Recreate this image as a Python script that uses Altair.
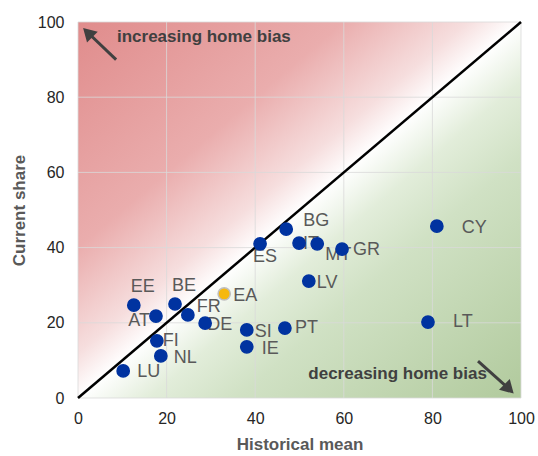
import altair as alt
import pandas as pd

# ---- data ----
countries = ["LU", "NL", "FI", "AT", "EE", "BE", "FR", "DE", "EA", "SI",
             "IE", "PT", "LV", "ES", "BG", "IT", "MT", "GR", "CY", "LT"]
historical = [10.2, 18.7, 17.8, 17.6, 12.6, 21.9, 24.8, 28.7, 33.0, 38.1,
              38.1, 46.7, 52.1, 41.1, 47.0, 49.9, 54.0, 59.6, 81.0, 79.0]
current = [7.2, 11.2, 15.2, 21.8, 24.7, 25.0, 22.1, 19.9, 27.7, 18.1,
           13.6, 18.6, 31.1, 41.0, 44.9, 41.2, 41.0, 39.6, 45.7, 20.2]

axis_ticks = [0, 20, 40, 60, 80, 100]
diag_x = [0, 100]
diag_y = [0, 100]

# annotation arrows (data units): tail -> head
arrow_up_x = [8.6, 2.2]
arrow_up_y = [90.0, 97.2]
arrow_down_x = [90.3, 97.3]
arrow_down_y = [9.8, 2.4]

# ---- label placement (style) ----
label_style = {
    "LU": ("left", 14, 1), "NL": ("left", 13, 2), "FI": ("left", 6, 0),
    "AT": ("right", -6, 5), "EE": ("center", 9, -18), "BE": ("center", 9, -18),
    "FR": ("left", 9, -8), "DE": ("left", 2, 2), "EA": ("left", 9, 2),
    "SI": ("left", 8, 2), "IE": ("left", 15, 2), "PT": ("left", 10, 0),
    "LV": ("left", 8, 2), "ES": ("center", 5, 13), "BG": ("left", 17, -8),
    "IT": ("left", 4, 1), "MT": ("left", 8, 11), "GR": ("left", 11, 1),
    "CY": ("left", 25, 2), "LT": ("left", 25, 0),
}

df = pd.DataFrame({"country": countries, "hist": historical, "cur": current})
df["group"] = ["EA" if c == "EA" else "country" for c in countries]

FONT = "Liberation Sans"
xs = alt.Scale(domain=[0, 100], nice=False)
ys = alt.Scale(domain=[0, 100], nice=False)

W, H = 443, 376

bg_df = pd.DataFrame({"x": [0], "x2": [100], "y": [0], "y2": [100]})
gradient = {
    "gradient": "linear", "x1": 0, "y1": 0, "x2": 1, "y2": 1,
    "stops": [
        {"offset": 0.0, "color": "#e08c8c"},
        {"offset": 0.3, "color": "#eaadad"},
        {"offset": 0.44, "color": "#f6dede"},
        {"offset": 0.5, "color": "#ffffff"},
        {"offset": 0.58, "color": "#e2edda"},
        {"offset": 0.68, "color": "#d0e1c4"},
        {"offset": 1.0, "color": "#b1ca9d"},
    ],
}
background = alt.Chart(bg_df).mark_rect(fill=gradient).encode(
    x=alt.X("x:Q", scale=xs, title="Historical mean",
            axis=alt.Axis(values=axis_ticks, grid=False, labelFlush=False,
                          ticks=False, domain=False, labelFontSize=16,
                          labelColor="#262626", labelFont=FONT, labelPadding=12,
                          titleFont=FONT, titleFontSize=17, titleColor="#595959",
                          titleFontWeight="bold", titlePadding=10)),
    x2="x2:Q",
    y=alt.Y("y:Q", scale=ys, title="Current share",
            axis=alt.Axis(values=axis_ticks, grid=False, labelFlush=False,
                          ticks=False, domain=False, labelFontSize=16,
                          labelColor="#262626", labelFont=FONT, labelPadding=14,
                          titleFont=FONT, titleFontSize=17, titleColor="#595959",
                          titleFontWeight="bold", titlePadding=9)),
    y2="y2:Q",
)

# gridlines drawn over gradient
grid_df = pd.DataFrame({"v": axis_ticks})
vgrid = alt.Chart(grid_df).mark_rule(color="#d9d9d9", strokeWidth=1, opacity=0.8).encode(
    x=alt.X("v:Q", scale=xs))
hgrid = alt.Chart(grid_df).mark_rule(color="#d9d9d9", strokeWidth=1, opacity=0.8).encode(
    y=alt.Y("v:Q", scale=ys))

diag = alt.Chart(pd.DataFrame({"x": diag_x, "y": diag_y})).mark_line(
    color="black", strokeWidth=2.5).encode(
    x=alt.X("x:Q", scale=xs), y=alt.Y("y:Q", scale=ys))

points = alt.Chart(df).mark_circle(size=150, opacity=1).encode(
    x=alt.X("hist:Q", scale=xs),
    y=alt.Y("cur:Q", scale=ys),
    color=alt.Color("group:N", scale=alt.Scale(domain=["country", "EA"],
                                               range=["#0033a0", "#f5b80f"]),
                    legend=None),
    stroke=alt.Stroke("group:N", scale=alt.Scale(domain=["country", "EA"],
                                                 range=["#0033a0", "#bfbfbf"]),
                      legend=None),
    strokeWidth=alt.value(1.5),
)

label_layers = []
for c, (al, dx, dy) in label_style.items():
    label_layers.append(
        alt.Chart(df).transform_filter(alt.datum.country == c).mark_text(
            align=al, baseline="middle", dx=dx, dy=dy, fontSize=18,
            font=FONT, color="#595959").encode(
            x=alt.X("hist:Q", scale=xs), y=alt.Y("cur:Q", scale=ys),
            text="country:N")
    )

def arrow(xv, yv, angle):
    adf = pd.DataFrame({"x": xv, "y": yv})
    shaft = alt.Chart(adf).mark_line(color="#404040", strokeWidth=3).encode(
        x=alt.X("x:Q", scale=xs), y=alt.Y("y:Q", scale=ys))
    head = alt.Chart(adf.iloc[[1]]).mark_point(
        shape="triangle-up", filled=True, size=230, angle=angle,
        color="#404040", opacity=1).encode(
        x=alt.X("x:Q", scale=xs), y=alt.Y("y:Q", scale=ys))
    return shaft + head

arrow_up = arrow(arrow_up_x, arrow_up_y, 315)
arrow_down = arrow(arrow_down_x, arrow_down_y, 135)

ann_df = pd.DataFrame({"x": [8.8, 92.3], "y": [96.0, 6.3],
                       "t": ["increasing home bias", "decreasing home bias"],
                       "a": ["l", "r"]})
ann_left = alt.Chart(ann_df).transform_filter(alt.datum.a == "l").mark_text(
    align="left", baseline="middle", fontSize=17, fontWeight="bold",
    font=FONT, color="#404040").encode(
    x=alt.X("x:Q", scale=xs), y=alt.Y("y:Q", scale=ys), text="t:N")
ann_right = alt.Chart(ann_df).transform_filter(alt.datum.a == "r").mark_text(
    align="right", baseline="middle", fontSize=17, fontWeight="bold",
    font=FONT, color="#404040").encode(
    x=alt.X("x:Q", scale=xs), y=alt.Y("y:Q", scale=ys), text="t:N")

chart = alt.layer(
    background, vgrid, hgrid, diag, *label_layers, points,
    arrow_up, arrow_down, ann_left, ann_right
).properties(
    width=W, height=H,
    autosize=alt.AutoSizeParams(type="none"),
    padding={"left": 78, "top": 22, "right": 17, "bottom": 58},
    background="white",
).configure_view(stroke=None)

chart.save("out.html", embed_options={"renderer": "svg", "actions": False})
